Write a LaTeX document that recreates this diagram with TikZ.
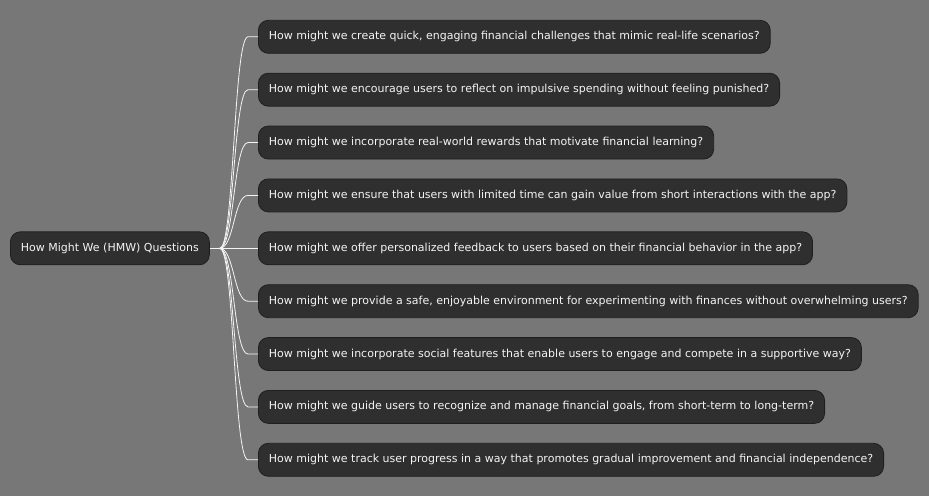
\documentclass[tikz,border=0pt]{standalone}
\usepackage{fontspec}
\setmainfont{DejaVu Sans}
\usetikzlibrary{calc}
\definecolor{canvas}{HTML}{777777}
\definecolor{boxfill}{HTML}{2F2F2F}
\definecolor{boxline}{HTML}{1F1F1F}
\definecolor{inktext}{HTML}{F4F4F4}
\definecolor{wire}{HTML}{F4F4F4}
\tikzset{
  idea/.style={draw=boxline, line width=0.8pt, fill=boxfill, text=inktext,
    rounded corners=10pt, anchor=west, minimum height=33pt,
    inner xsep=10.5pt, inner ysep=0pt,
    font=\fontsize{11}{13}\selectfont},
  branch/.style={draw=wire, line width=0.8pt}
}
\begin{document}
\begin{tikzpicture}[x=1pt,y=-1pt]
  \fill[canvas] (0,0) rectangle (929,496);
  \useasboundingbox (0,0) rectangle (929,496);

  \node[idea] (root) at (10,248.3) {How Might We (HMW) Questions};

  \node[idea] (c1) at (258,36.8) {How might we create quick, engaging financial challenges that mimic real-life scenarios?};
  \node[idea] (c2) at (258,89.7) {How might we encourage users to reflect on impulsive spending without feeling punished?};
  \node[idea] (c3) at (258,142.55) {How might we incorporate real-world rewards that motivate financial learning?};
  \node[idea] (c4) at (258,195.4) {How might we ensure that users with limited time can gain value from short interactions with the app?};
  \node[idea] (c5) at (258,248.3) {How might we offer personalized feedback to users based on their financial behavior in the app?};
  \node[idea] (c6) at (258,301.2) {How might we provide a safe, enjoyable environment for experimenting with finances without overwhelming users?};
  \node[idea] (c7) at (258,354.05) {How might we incorporate social features that enable users to engage and compete in a supportive way?};
  \node[idea] (c8) at (258,406.9) {How might we guide users to recognize and manage financial goals, from short-term to long-term?};
  \node[idea] (c9) at (258,459.8) {How might we track user progress in a way that promotes gradual improvement and financial independence?};

  \coordinate (hub) at ($(root.east)+(10,0)$);
  \draw[branch] (root.east) -- (hub);
  \foreach \c in {c1,c2,c3,c4,c5,c6,c7,c8,c9}{
    \draw[branch] (hub) .. controls ($(hub)+(14.5,0)$) and ($(\c.west)+(-24.5,0)$) .. ($(\c.west)+(-10,0)$) -- (\c.west);
  }
\end{tikzpicture}
\end{document}
